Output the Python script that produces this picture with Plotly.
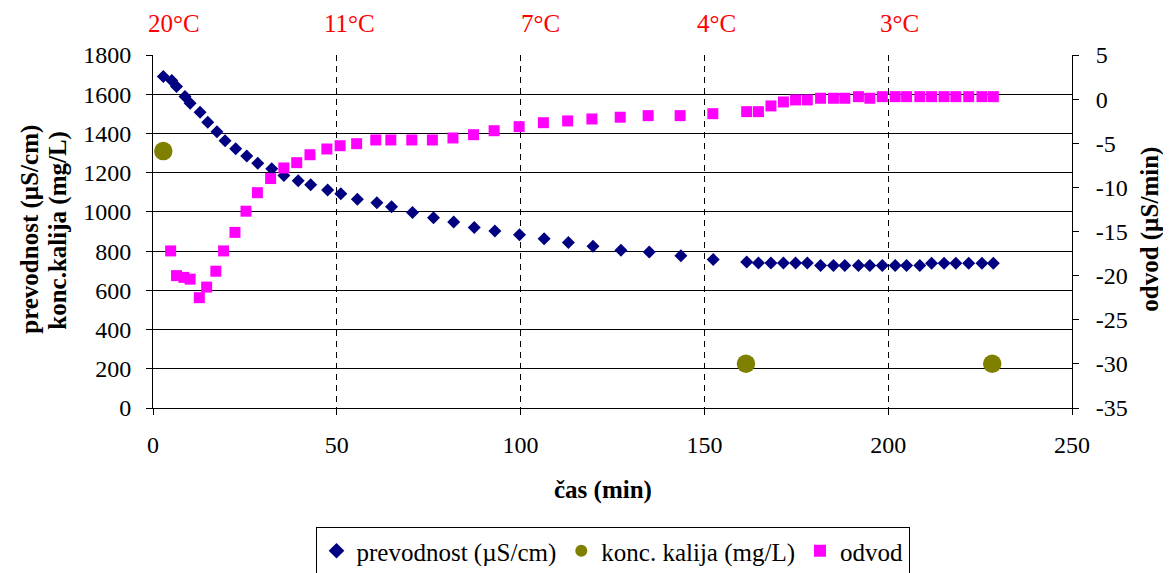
import plotly.graph_objects as go

# --- data ---
t_cond = [2.8, 5.1, 6.4, 8.7, 10.1, 12.8, 14.9, 17.4, 19.6, 22.5,
          25.5, 28.5, 32.3, 35.6, 39.5, 42.9, 47.5, 51.1, 55.6, 60.9,
          64.9, 70.6, 76.3, 81.8, 87.4, 93.0, 99.7, 106.4, 113.0, 119.7,
          127.3, 135.0, 143.6, 152.4,
          161.5, 164.7, 168.1, 171.5, 174.8, 178.0, 181.6, 185.1, 188.2, 191.9,
          195.0, 198.4, 201.9, 205.0, 208.6, 211.8, 215.2, 218.4, 221.9, 225.5, 228.6]
cond = [1690, 1670, 1639, 1588, 1554, 1508, 1457, 1409, 1363, 1322,
        1285, 1248, 1220, 1186, 1159, 1138, 1111, 1093, 1065, 1046,
        1026, 997, 970, 949, 921, 902, 883, 863, 844, 825,
        805, 795, 776, 757,
        745, 740, 740, 740, 740, 740, 727, 727, 727, 727,
        727, 727, 727, 727, 727, 738, 738, 738, 738, 738, 738]

t_k = [2.8, 161.3, 228.3]
kalij = [1310, 226, 226]

t_odv = [4.8, 6.4, 8.4, 10.1, 12.6, 14.6, 17.1, 19.2, 22.3, 25.3,
         28.4, 32.0, 35.6, 39.1, 42.7, 47.3, 50.9, 55.4, 60.6, 64.7,
         70.4, 76.0, 81.6, 87.2, 92.8, 99.6, 106.2, 112.8, 119.4, 127.1,
         134.7, 143.4, 152.3,
         161.5, 164.7, 168.1, 171.5, 174.8, 178.0, 181.6, 185.1, 188.2, 191.9,
         195.0, 198.4, 201.9, 205.0, 208.6, 211.8, 215.2, 218.4, 221.9, 225.5, 228.6]
odvod = [-17.2, -20.0, -20.2, -20.4, -22.5, -21.3, -19.5, -17.2, -15.1, -12.7,
         -10.6, -9.0, -7.8, -7.2, -6.3, -5.65, -5.28, -5.05, -4.63, -4.63,
         -4.63, -4.63, -4.40, -4.03, -3.58, -3.12, -2.67, -2.47, -2.25, -2.05,
         -1.87, -1.87, -1.65,
         -1.42, -1.42, -0.77, -0.32, -0.09, -0.09, 0.10, 0.10, 0.10, 0.28,
         0.10, 0.28, 0.28, 0.28, 0.28, 0.28, 0.28, 0.28, 0.28, 0.28, 0.28]

temp_labels = ["20°C", "11°C", "7°C", "4°C", "3°C"]
temp_t = [5.8, 53.5, 105.4, 153.2, 203.2]

x_ticks = [0, 50, 100, 150, 200, 250]
y2_ticks = [-35, -30, -25, -20, -15, -10, -5, 0, 5]

y_title_lines = ["prevodnost (µS/cm)", "konc.kalija (mg/L)"]
y2_title = "odvod (µS/min)"
x_title = "čas (min)"

FONT = "Liberation Serif"
FS_TICK = 24
FS = 25

fig = go.Figure()
fig.add_trace(go.Scatter(x=t_cond, y=cond, mode="markers", name="prevodnost (µS/cm)",
                         marker=dict(symbol="diamond", size=10, color="#000080", line=dict(width=0))))
fig.add_trace(go.Scatter(x=t_k, y=kalij, mode="markers", name="konc. kalija (mg/L)",
                         marker=dict(symbol="circle", size=18.5, color="#808000", line=dict(width=0))))
fig.add_trace(go.Scatter(x=t_odv, y=odvod, mode="markers", name="odvod", yaxis="y2",
                         marker=dict(symbol="square", size=11, color="#FF00FF", line=dict(width=0))))

# temperature labels above the plot
for lab, t in zip(temp_labels, temp_t):
    fig.add_annotation(x=t, y=1.09, xref="x", yref="paper", text=lab, showarrow=False,
                       font=dict(family=FONT, size=FS, color="#FF0000"),
                       xanchor="center", yanchor="middle")

# axis titles
for txt, xp in zip(y_title_lines, [-0.1338, -0.1034]):
    fig.add_annotation(x=xp, y=0.505, xref="paper", yref="paper", text="<b>%s</b>" % txt,
                       showarrow=False, textangle=-90, xanchor="center", yanchor="middle",
                       font=dict(family=FONT, size=FS, color="black"))
fig.add_annotation(x=1.0849, y=0.505, xref="paper", yref="paper", text="<b>%s</b>" % y2_title,
                   showarrow=False, textangle=-90, xanchor="center", yanchor="middle",
                   font=dict(family=FONT, size=FS, color="black"))
fig.add_annotation(x=0.4897, y=-0.232, xref="paper", yref="paper", text="<b>%s</b>" % x_title,
                   showarrow=False, xanchor="center", yanchor="middle",
                   font=dict(family=FONT, size=FS, color="black"))

fig.update_layout(
    width=1163, height=565,
    margin=dict(l=145, r=99, t=47, b=165),
    paper_bgcolor="white", plot_bgcolor="white",
    font=dict(family=FONT, size=FS_TICK, color="black"),
    showlegend=True,
    legend=dict(orientation="h", x=0.5, xanchor="center", xref="paper",
                y=0.0814, yanchor="top", yref="container",
                bordercolor="black", borderwidth=1, font=dict(family=FONT, size=FS),
                itemsizing="constant", tracegroupgap=0),
    xaxis=dict(range=[0, 250], tickvals=x_ticks, showline=True, linecolor="black", linewidth=1,
               ticks="outside", ticklen=6, tickcolor="black", ticklabelstandoff=9,
               showgrid=True, gridcolor="black", gridwidth=1, griddash="6px,5px",
               zeroline=False, automargin=False),
    yaxis=dict(range=[0, 1800], dtick=200, showline=True, linecolor="black", linewidth=1,
               ticks="outside", ticklen=6, tickcolor="black", ticklabelstandoff=10,
               showgrid=True, gridcolor="black", gridwidth=1, zeroline=False, automargin=False),
    yaxis2=dict(range=[-35, 5], overlaying="y", side="right", tickvals=y2_ticks,
                ticktext=[str(v) for v in y2_ticks],
                showline=True, linecolor="black", linewidth=1,
                ticks="outside", ticklen=6, tickcolor="black", ticklabelstandoff=12,
                showgrid=False, zeroline=False, automargin=False),
)

fig.write_html("out.html")
